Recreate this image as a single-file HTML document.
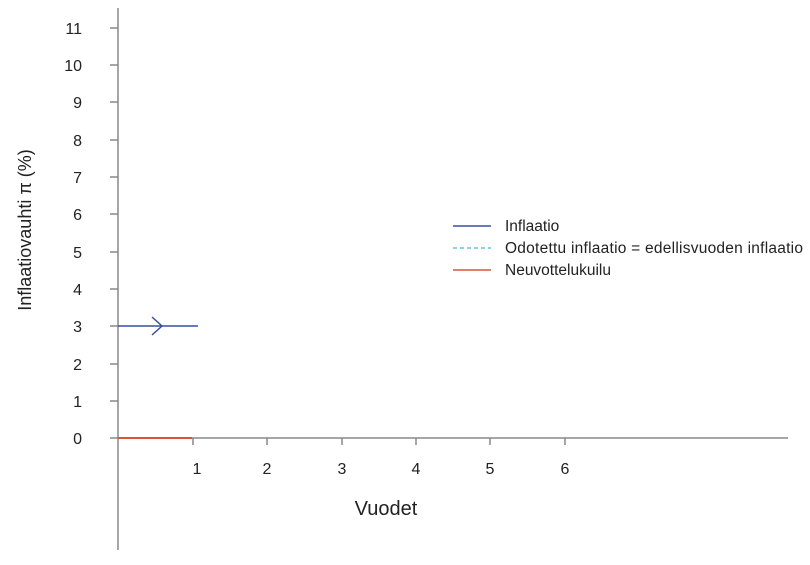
<!DOCTYPE html><html><head><style>body{margin:0;background:#fff}</style></head><body>
<svg width="810" height="560" xmlns="http://www.w3.org/2000/svg" font-family="Liberation Sans, sans-serif">
<g stroke="#888" stroke-width="1.5">
<line x1="118" y1="8" x2="118" y2="550"/>
<line x1="110" y1="438" x2="788" y2="438"/>
<line x1="110" y1="401" x2="118" y2="401"/><line x1="110" y1="364" x2="118" y2="364"/><line x1="110" y1="326" x2="118" y2="326"/><line x1="110" y1="289" x2="118" y2="289"/><line x1="110" y1="252" x2="118" y2="252"/><line x1="110" y1="214" x2="118" y2="214"/><line x1="110" y1="177" x2="118" y2="177"/><line x1="110" y1="140" x2="118" y2="140"/><line x1="110" y1="102" x2="118" y2="102"/><line x1="110" y1="65" x2="118" y2="65"/><line x1="110" y1="28" x2="118" y2="28"/>
<line x1="193" y1="438" x2="193" y2="445"/><line x1="267" y1="438" x2="267" y2="445"/><line x1="342" y1="438" x2="342" y2="445"/><line x1="416" y1="438" x2="416" y2="445"/><line x1="490" y1="438" x2="490" y2="445"/><line x1="565" y1="438" x2="565" y2="445"/>
</g>
<g font-size="16" fill="#222" text-anchor="end">
<text x="82" y="444">0</text><text x="82" y="407">1</text><text x="82" y="370">2</text><text x="82" y="332">3</text><text x="82" y="295">4</text><text x="82" y="258">5</text><text x="82" y="220">6</text><text x="82" y="183">7</text><text x="82" y="146">8</text><text x="82" y="108">9</text><text x="82" y="71">10</text><text x="82" y="34">11</text>
</g>
<g font-size="16" fill="#222" text-anchor="middle">
<text x="197" y="474">1</text><text x="267" y="474">2</text><text x="342" y="474">3</text><text x="416" y="474">4</text><text x="490" y="474">5</text><text x="565" y="474">6</text>
<text x="386" y="515" font-size="20">Vuodet</text>
<text transform="translate(31,230) rotate(-90)" font-size="18">Inflaatiovauhti π (%)</text>
</g>
<line x1="118" y1="438" x2="192" y2="438" stroke="#d9533b" stroke-width="2"/>
<line x1="118" y1="326" x2="198" y2="326" stroke="#3a4ea0" stroke-width="1.5"/>
<polyline points="152,317 162,326 152,335" fill="none" stroke="#3a4ea0" stroke-width="1.5"/>
<line x1="453" y1="226" x2="491" y2="226" stroke="#3a4ea0" stroke-width="1.5"/>
<line x1="453" y1="248" x2="491" y2="248" stroke="#6bbfe0" stroke-width="1.5" stroke-dasharray="4,3"/>
<line x1="453" y1="270" x2="491" y2="270" stroke="#d9533b" stroke-width="1.5"/>
<g font-size="15.5" fill="#222">
<text x="505" y="231">Inflaatio</text>
<text x="505" y="253" textLength="298">Odotettu inflaatio = edellisvuoden inflaatio</text>
<text x="505" y="275">Neuvottelukuilu</text>
</g>
</svg>
</body></html>
